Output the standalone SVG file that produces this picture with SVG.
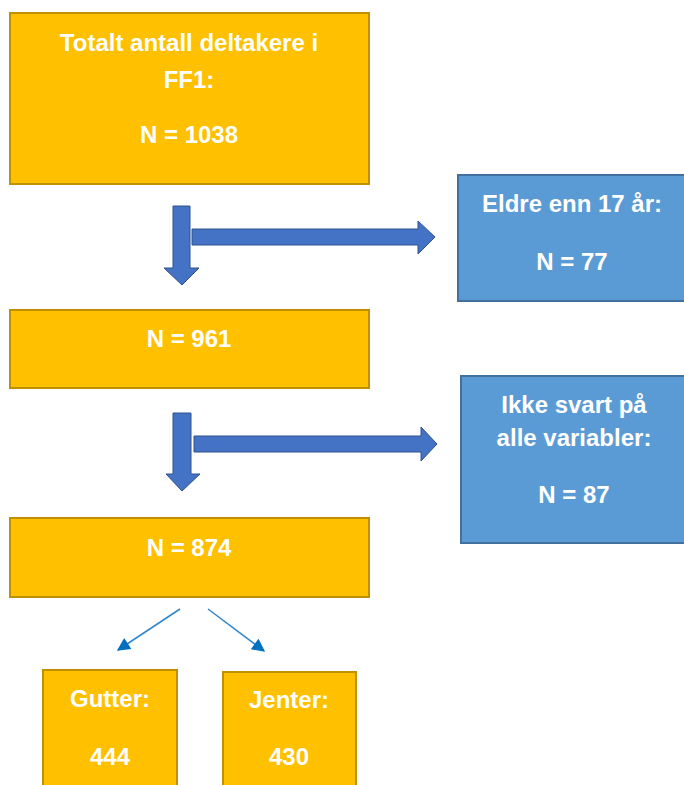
<svg xmlns="http://www.w3.org/2000/svg" width="684" height="785" viewBox="0 0 684 785">
<style>
.o{fill:#FFC000;stroke:#BF9000;stroke-width:2}
.b{fill:#5B9BD5;stroke:#41719C;stroke-width:2}
.t{fill:#fff;font-family:"Liberation Sans",Arial,sans-serif;font-weight:bold;font-size:24px;text-anchor:middle}
.ba{fill:#4472C4;stroke:#2F528F;stroke-width:1}
.thin{stroke:#2E86CF;stroke-width:1.5;fill:none}
</style>
<defs>
<marker id="ah" viewBox="0 0 10 10" refX="9" refY="5" markerWidth="15" markerHeight="13" markerUnits="userSpaceOnUse" orient="auto"><path d="M0,0 L10,5 L0,10 z" fill="#0070C0"/></marker>
</defs>
<rect width="684" height="785" fill="#fff"/>
<g id="n1"><rect class="o" x="10" y="13" width="359" height="171"/>
<text class="t" x="189" y="51">Totalt antall deltakere i</text>
<text class="t" x="189" y="88">FF1:</text>
<text class="t" x="189" y="143">N = 1038</text></g>
<g id="e1"><rect class="b" x="458" y="175" width="230" height="126"/>
<text class="t" x="572" y="212">Eldre enn 17 år:</text>
<text class="t" x="572" y="270">N = 77</text></g>
<g id="n2"><rect class="o" x="10" y="310" width="359" height="78"/>
<text class="t" x="189" y="347">N = 961</text></g>
<g id="e2"><rect class="b" x="461" y="376" width="227" height="167"/>
<text class="t" x="574" y="413">Ikke svart på</text>
<text class="t" x="574" y="446">alle variabler:</text>
<text class="t" x="574" y="503">N = 87</text></g>
<g id="n3"><rect class="o" x="10" y="518" width="359" height="79"/>
<text class="t" x="189" y="556">N = 874</text></g>
<g id="g"><rect class="o" x="43" y="670" width="134" height="120"/>
<text class="t" x="110" y="707">Gutter:</text>
<text class="t" x="110" y="765">444</text></g>
<g id="j"><rect class="o" x="223" y="672" width="133" height="120"/>
<text class="t" x="289" y="708">Jenter:</text>
<text class="t" x="289" y="765">430</text></g>
<g id="connectors">
<path class="ba" d="M173,206 H190 V268 H199 L182,285 L164,268 H173 Z"/>
<path class="ba" d="M192,229 H418 V221 L435,237 L418,254 V245 H192 Z"/>
<path class="ba" d="M173,413 H191 V474 H200 L182,491 L166,474 H173 Z"/>
<path class="ba" d="M194,436 H421 V427 L437,444 L421,461 V452 H194 Z"/>
<line class="thin" x1="180" y1="609" x2="118" y2="650" marker-end="url(#ah)"/>
<line class="thin" x1="208" y1="609" x2="264" y2="651" marker-end="url(#ah)"/>
</g>
</svg>
